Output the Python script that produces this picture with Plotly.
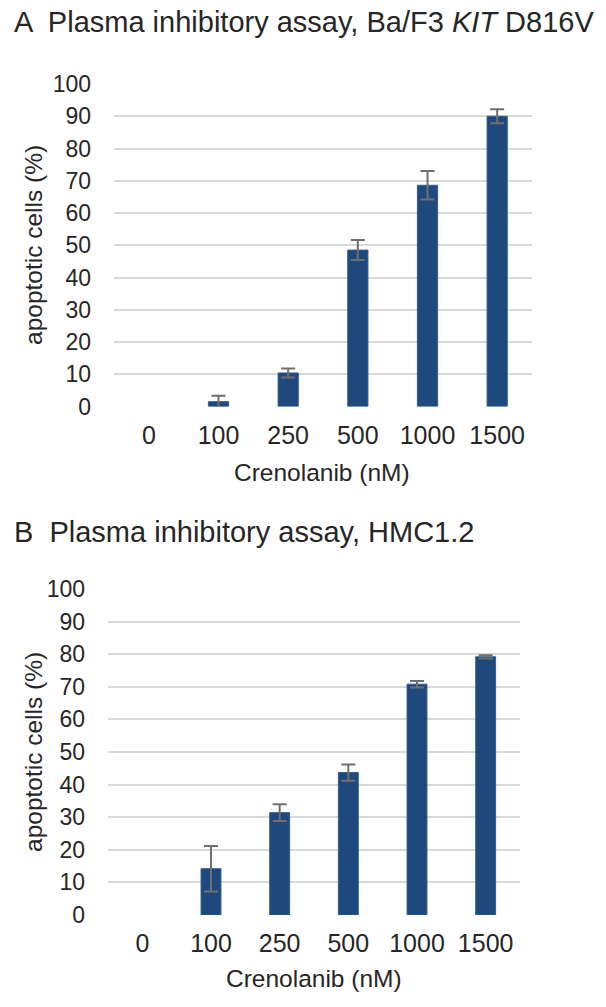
import plotly.graph_objects as go

categories = ["0", "100", "250", "500", "1000", "1500"]

# Panel A: Ba/F3 KIT D816V
a_values = [None, 1.5, 10.4, 48.5, 68.6, 90.0]
a_errors = [None, 1.8, 1.4, 3.1, 4.4, 2.2]

# Panel B: HMC1.2
b_values = [None, 14.2, 31.4, 43.7, 70.8, 79.2]
b_errors = [None, 7.0, 2.6, 2.5, 1.0, 0.5]

title_a = "A  Plasma inhibitory assay, Ba/F3 <i>KIT</i> D816V"
title_b = "B  Plasma inhibitory assay, HMC1.2"
y_title = "apoptotic cells (%)"
x_title = "Crenolanib (nM)"
y_ticks = list(range(0, 101, 10))

W, H = 606, 1007
BAR = "#1f497d"
ERR = "#6f6f6f"
TXT = "#262626"
FONT = "Liberation Sans, Arial, sans-serif"

fig = go.Figure()
for vals, errs, xa, ya in [(a_values, a_errors, "x", "y"), (b_values, b_errors, "x2", "y2")]:
    fig.add_trace(go.Bar(
        x=categories, y=vals, xaxis=xa, yaxis=ya,
        marker=dict(color=BAR, line=dict(color="#2e5d94", width=1)),
        width=0.29,
        error_y=dict(type="data", array=errs, visible=True, color=ERR, thickness=2, width=7),
        showlegend=False,
    ))

def px_x(p):
    return p / W

def px_y(p):
    return 1 - p / H

axis_common = dict(showline=False, zeroline=False, automargin=False)
xfont = dict(family=FONT, size=25, color=TXT)
yfont = dict(family=FONT, size=23, color=TXT)

fig.update_layout(
    template="none",
    width=W, height=H, autosize=False,
    margin=dict(l=0, r=0, t=0, b=0, pad=0, autoexpand=False),
    paper_bgcolor="white", plot_bgcolor="white",
    font=dict(family=FONT, color=TXT),
    bargap=0.7,
    xaxis=dict(domain=[px_x(114), px_x(532)], anchor="y", type="category",
               categoryorder="array", categoryarray=categories,
               showgrid=False, ticks="", ticklabelstandoff=11, tickfont=xfont, **axis_common),
    yaxis=dict(domain=[px_y(406.5), px_y(84)], anchor="x", range=[0, 100],
               tickvals=y_ticks, showgrid=True, gridcolor="#d9d9d9", gridwidth=1.5,
               ticks="", ticklabelstandoff=22, tickfont=yfont, **axis_common),
    xaxis2=dict(domain=[px_x(108), px_x(520)], anchor="y2", type="category",
                categoryorder="array", categoryarray=categories,
                showgrid=False, ticks="", ticklabelstandoff=11, tickfont=xfont, **axis_common),
    yaxis2=dict(domain=[px_y(915), px_y(589)], anchor="x2", range=[0, 100],
                tickvals=y_ticks, showgrid=True, gridcolor="#d9d9d9", gridwidth=1.5,
                ticks="", ticklabelstandoff=22, tickfont=yfont, **axis_common),
)

ann = []
ann.append(dict(text=title_a, x=px_x(12), y=px_y(22), xref="paper", yref="paper",
                xanchor="left", yanchor="middle", showarrow=False,
                font=dict(family=FONT, size=29, color=TXT)))
ann.append(dict(text=title_b, x=px_x(12), y=px_y(532), xref="paper", yref="paper",
                xanchor="left", yanchor="middle", showarrow=False,
                font=dict(family=FONT, size=29, color=TXT)))
for yc in [245, 752]:
    ann.append(dict(text=y_title, x=px_x(33), y=px_y(yc), xref="paper", yref="paper",
                    xanchor="center", yanchor="middle", textangle=-90, showarrow=False,
                    font=dict(family=FONT, size=24.5, color=TXT)))
for xc, yc in [(322, 472), (314, 978)]:
    ann.append(dict(text=x_title, x=px_x(xc), y=px_y(yc), xref="paper", yref="paper",
                    xanchor="center", yanchor="middle", showarrow=False,
                    font=dict(family=FONT, size=24.5, color=TXT)))
fig.update_layout(annotations=ann)

fig.write_html("out.html", config={"displayModeBar": False},
               post_script="document.body.style.margin='0';")
